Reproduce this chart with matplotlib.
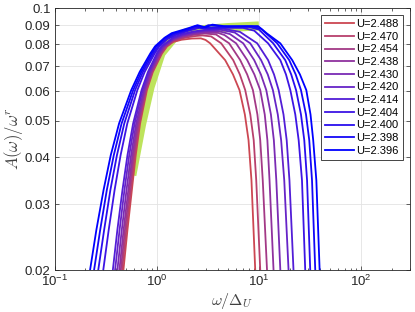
import numpy as np
import matplotlib
matplotlib.use("Agg")
import matplotlib.pyplot as plt

# ---------------- data ----------------
u_labels = ["U=2.488", "U=2.470", "U=2.454", "U=2.438", "U=2.430", "U=2.420",
            "U=2.414", "U=2.404", "U=2.400", "U=2.398", "U=2.396"]

# left (rising) branch: x of each curve (U=2.488 ... U=2.396) at given y levels
left_y = [0.0200, 0.0256, 0.0327, 0.0405, 0.0492, 0.0604, 0.0675, 0.0757, 0.0790]
left_x_020 = [0.471, 0.457, 0.444, 0.430, 0.411, 0.390, 0.371, 0.299, 0.267, 0.243, 0.222]
left_x_026 = [0.516, 0.502, 0.488, 0.473, 0.454, 0.432, 0.411, 0.338, 0.305, 0.279, 0.256]
left_x_033 = [0.570, 0.556, 0.541, 0.526, 0.505, 0.482, 0.461, 0.386, 0.351, 0.324, 0.301]
left_x_041 = [0.622, 0.608, 0.594, 0.579, 0.560, 0.537, 0.516, 0.442, 0.407, 0.379, 0.354]
left_x_049 = [0.686, 0.673, 0.661, 0.646, 0.628, 0.606, 0.586, 0.514, 0.480, 0.452, 0.427]
left_x_060 = [0.800, 0.789, 0.778, 0.766, 0.748, 0.728, 0.709, 0.645, 0.613, 0.587, 0.562]
left_x_068 = [0.914, 0.903, 0.891, 0.877, 0.859, 0.839, 0.818, 0.760, 0.731, 0.705, 0.679]
left_x_076 = [1.125, 1.110, 1.095, 1.075, 1.050, 1.025, 1.000, 0.955, 0.925, 0.895, 0.865]
left_x_079 = [1.260, 1.240, 1.220, 1.195, 1.170, 1.140, 1.110, 1.060, 1.030, 0.990, 0.960]

# top (plateau) points of each curve
top_x_0 = [1.45, 1.75, 2.2, 2.7, 3.0]
top_y_0 = [0.0812, 0.0823, 0.0829, 0.0830, 0.0822]
top_x_1 = [1.45, 1.8, 2.3, 2.8, 3.4]
top_y_1 = [0.0817, 0.0831, 0.0841, 0.0845, 0.0840]
top_x_2 = [1.45, 1.8, 2.3, 2.9, 3.8]
top_y_2 = [0.0820, 0.0836, 0.0849, 0.0855, 0.0850]
top_x_3 = [1.45, 1.8, 2.3, 3.0, 4.0, 4.6]
top_y_3 = [0.0823, 0.0840, 0.0853, 0.0860, 0.0858, 0.0847]
top_x_4 = [1.45, 1.8, 2.3, 3.0, 4.0, 5.2]
top_y_4 = [0.0826, 0.0845, 0.0858, 0.0866, 0.0868, 0.0852]
top_x_5 = [1.45, 1.8, 2.3, 3.0, 4.2, 5.8]
top_y_5 = [0.0830, 0.0849, 0.0862, 0.0871, 0.0875, 0.0860]
top_x_6 = [1.45, 1.8, 2.3, 3.0, 4.5, 6.5]
top_y_6 = [0.0834, 0.0853, 0.0866, 0.0875, 0.0880, 0.0864]
top_x_7 = [1.27, 1.55, 2.0, 2.6, 3.3, 5.0, 7.0, 9.0]
top_y_7 = [0.0826, 0.0848, 0.0868, 0.0885, 0.0880, 0.0885, 0.0885, 0.0870]
top_x_8 = [1.25, 1.5, 2.0, 2.5, 3.0, 5.0, 8.0, 10.0]
top_y_8 = [0.0830, 0.0852, 0.0872, 0.0890, 0.0885, 0.0890, 0.0890, 0.0876]
top_x_9 = [1.21, 1.45, 2.0, 2.4, 2.8, 3.2, 5.0, 8.5, 10.5]
top_y_9 = [0.0832, 0.0855, 0.0877, 0.0895, 0.0885, 0.0900, 0.0890, 0.0893, 0.0880]
top_x_10 = [1.19, 1.4, 2.0, 2.5, 3.0, 3.5, 4.5, 7.0, 9.8, 12.0]
top_y_10 = [0.0833, 0.0857, 0.0882, 0.0900, 0.0888, 0.0903, 0.0895, 0.0895, 0.0895, 0.0855]

# right (falling) branch: x of each curve at given y levels
right_y = [0.0805, 0.0726, 0.0665, 0.0604, 0.0520, 0.0444, 0.0347, 0.0200]
right_x_081 = [3.33, 4.27, 5.11, 5.98, 7.02, 8.22, 9.62, 12.3, 13.8, 15.1, 16.2]
right_x_073 = [4.67, 5.60, 6.56, 7.68, 8.99, 10.5, 12.3, 16.2, 18.1, 19.8, 21.2]
right_x_067 = [5.57, 6.50, 7.67, 9.02, 10.45, 12.2, 14.05, 18.4, 20.7, 22.9, 25.2]
right_x_060 = [6.45, 7.34, 8.73, 10.3, 11.8, 13.7, 15.6, 20.3, 23.1, 25.8, 29.1]
right_x_052 = [7.28, 8.23, 9.66, 11.4, 13.1, 15.3, 17.4, 22.7, 25.8, 28.9, 32.0]
right_x_044 = [7.91, 8.89, 10.3, 12.1, 14.0, 16.5, 18.7, 24.5, 27.8, 31.1, 34.0]
right_x_035 = [8.45, 9.41, 10.9, 12.7, 14.8, 17.7, 19.9, 26.4, 29.6, 33.1, 36.5]
right_x_020 = [9.20, 10.3, 12.0, 13.9, 16.2, 19.5, 21.8, 28.4, 31.8, 35.6, 39.3]

# green reference band
band_x = [0.57, 0.71, 0.86, 1.10, 1.45, 2.0, 3.0, 5.0, 10.0]
band_y = [0.0358, 0.0490, 0.0616, 0.0757, 0.0830, 0.0862, 0.0877, 0.0887, 0.0896]

x_ticks = [0.1, 1, 10, 100]
y_ticks = [0.02, 0.03, 0.04, 0.05, 0.06, 0.07, 0.08, 0.09, 0.1]
y_ticklabels = ["0.02", "0.03", "0.04", "0.05", "0.06", "0.07", "0.08", "0.09", "0.1"]

# ---------------- plotting ----------------
plt.rcParams['font.family'] = ['Liberation Sans', 'DejaVu Sans']
plt.rcParams['mathtext.fontset'] = 'cm'

fig = plt.figure(figsize=(4.15, 3.12), dpi=100)
ax = fig.add_axes([0.1318, 0.1346, 0.8556, 0.8397])

left_rows = [left_x_020, left_x_026, left_x_033, left_x_041, left_x_049,
             left_x_060, left_x_068, left_x_076, left_x_079]
right_rows = [right_x_081, right_x_073, right_x_067, right_x_060, right_x_052,
              right_x_044, right_x_035, right_x_020]
tops_x = [top_x_0, top_x_1, top_x_2, top_x_3, top_x_4, top_x_5, top_x_6,
          top_x_7, top_x_8, top_x_9, top_x_10]
tops_y = [top_y_0, top_y_1, top_y_2, top_y_3, top_y_4, top_y_5, top_y_6,
          top_y_7, top_y_8, top_y_9, top_y_10]

ax.plot(band_x, band_y, color='#bde35c', lw=6.5, solid_capstyle='butt',
        solid_joinstyle='round', zorder=2)

red = np.array([0.80, 0.28, 0.32])
blue = np.array([0.0, 0.0, 1.0])
n = len(u_labels)
for i in range(n):
    t = i / (n - 1)
    col = (1 - t) * red + t * blue
    col[2] = min(1.0, col[2] + 0.12 * np.sin(np.pi * t))
    xs = [row[i] for row in left_rows] + tops_x[i] + [row[i] for row in right_rows]
    ys = list(left_y) + tops_y[i] + list(right_y)
    ax.plot(xs, ys, color=col, lw=1.3, label=u_labels[i], zorder=3,
            solid_joinstyle='round')

ax.set_xscale('log')
ax.set_yscale('log')
ax.set_xlim(0.1, 300)
ax.set_ylim(0.02, 0.1)
ax.set_xticks(x_ticks)
ax.set_yticks(y_ticks)
ax.set_yticklabels(y_ticklabels)
ax.yaxis.set_minor_locator(matplotlib.ticker.NullLocator())

ax.grid(True, which='major', color='#e3e3e3', lw=0.6, zorder=0)
ax.set_axisbelow(True)
ax.tick_params(which='both', direction='in', top=True, right=True,
               labelsize=9.5, colors='#262626', width=0.5, pad=3)
ax.tick_params(which='major', length=3)
ax.tick_params(which='minor', length=1.8)
for s in ax.spines.values():
    s.set_color('#262626')
    s.set_linewidth(0.6)

ax.set_xlabel(r'$\omega/\Delta_U$', fontsize=11.5, color='#404040', labelpad=1)
ax.set_ylabel(r'$A(\omega)/\omega^r$', fontsize=12, color='#404040', labelpad=0)

leg = ax.legend(loc='upper right', fontsize=8, frameon=True, fancybox=False,
                edgecolor='#262626', framealpha=1, handlelength=2.6,
                handletextpad=0.25, labelspacing=0.24, borderpad=0.35,
                borderaxespad=0.65)
leg.get_frame().set_linewidth(0.6)

fig.savefig('out.png', dpi=100)
